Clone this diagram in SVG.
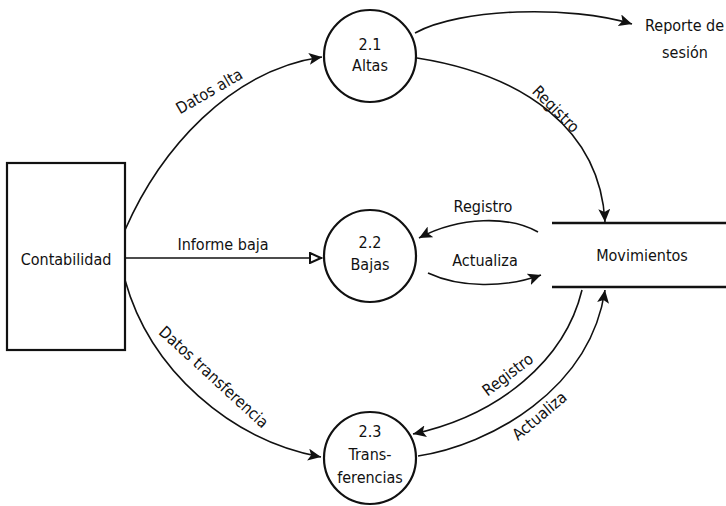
<svg xmlns="http://www.w3.org/2000/svg" width="726" height="506" viewBox="0 0 726 506">
<style>
  text { font-family: "DejaVu Sans Condensed", "DejaVu Sans", "Liberation Sans", sans-serif; font-stretch: condensed; font-size: 16px; fill: #111; }
  .c { text-anchor: middle; }
  .node { fill: #fff; stroke: #111; stroke-width: 2.2; }
  .store { stroke: #111; stroke-width: 2.4; fill: none; }
  .flow { fill: none; stroke: #111; stroke-width: 1.6; marker-end: url(#af); }
  .flowo { fill: none; stroke: #111; stroke-width: 1.6; marker-end: url(#ao); }
</style>
<defs>
  <marker id="af" markerUnits="userSpaceOnUse" markerWidth="14" markerHeight="12" viewBox="0 0 14 12" refX="13" refY="6" orient="auto">
    <path d="M0,0 L13,6 L0,12 L3,6 Z" fill="#111"/>
  </marker>
  <marker id="ao" markerUnits="userSpaceOnUse" markerWidth="14" markerHeight="12" viewBox="0 0 14 12" refX="13" refY="6" orient="auto">
    <path d="M1,1 L12,6 L1,11 Z" fill="#fff" stroke="#111" stroke-width="2"/>
  </marker>
</defs>
<rect width="726" height="506" fill="#fff"/>

<g id="connectors">
  <path id="f-datos-alta" class="flow" d="M125,230 C160,150 230,70 322,57"/>
  <path id="f-informe-baja" class="flowo" d="M125,258 L322,258"/>
  <path id="f-datos-transf" class="flow" d="M125,280 C150,370 230,440 321,457"/>
  <path id="f-reporte" class="flow" d="M415,33 C460,8 570,5 632,24"/>
  <path id="f-registro-1" class="flow" d="M417,58 C525,75 600,130 605,222"/>
  <path id="f-registro-2" class="flow" d="M538,232 C510,216 460,216 419,238"/>
  <path id="f-actualiza-2" class="flow" d="M428,273 C460,288 505,288 541,275"/>
  <path id="f-registro-3" class="flow" d="M582,290 C565,360 500,415 413,434"/>
  <path id="f-actualiza-3" class="flow" d="M418,456 C490,445 590,390 605,290"/>
</g>

<g id="labels">
  <text class="c" transform="translate(212,96) rotate(-30)">Datos alta</text>
  <text class="c" x="223" y="250">Informe baja</text>
  <text class="c" transform="translate(210,381) rotate(42.5)">Datos transferencia</text>
  <text class="c" transform="translate(552,113) rotate(45)">Registro</text>
  <text class="c" x="483" y="212">Registro</text>
  <text class="c" x="485" y="266">Actualiza</text>
  <text class="c" transform="translate(511,379) rotate(-37)">Registro</text>
  <text class="c" transform="translate(543,420) rotate(-40)">Actualiza</text>
</g>

<g id="contabilidad">
  <rect class="node" x="7" y="163" width="118" height="187"/>
  <text class="c" x="66" y="265">Contabilidad</text>
</g>

<g id="p21">
  <circle class="node" cx="370" cy="56" r="46"/>
  <text class="c" x="370" y="50">2.1</text>
  <text class="c" x="370" y="71">Altas</text>
</g>

<g id="p22">
  <circle class="node" cx="370" cy="256" r="46"/>
  <text class="c" x="370" y="248">2.2</text>
  <text class="c" x="370" y="270">Bajas</text>
</g>

<g id="p23">
  <circle class="node" cx="370" cy="458" r="46"/>
  <text class="c" x="370" y="437">2.3</text>
  <text class="c" x="370" y="460">Trans-</text>
  <text class="c" x="370" y="483">ferencias</text>
</g>

<g id="movimientos">
  <line class="store" x1="552" y1="223" x2="726" y2="223"/>
  <line class="store" x1="552" y1="287" x2="726" y2="287"/>
  <text class="c" x="642" y="261">Movimientos</text>
</g>

<g id="reporte">
  <text x="645" y="31">Reporte de</text>
  <text class="c" x="685" y="58">sesión</text>
</g>
</svg>
